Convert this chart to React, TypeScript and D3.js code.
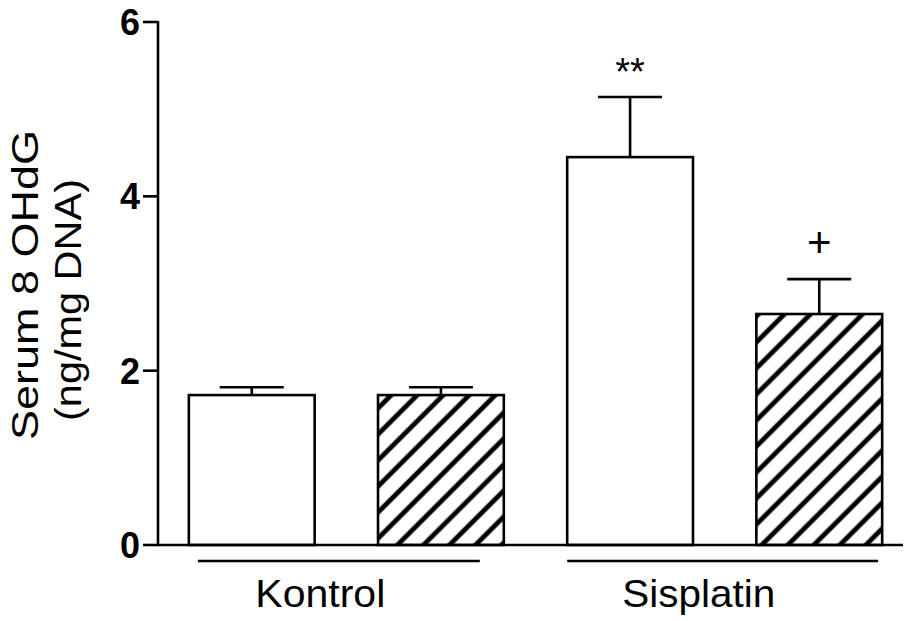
import React from "react";
import * as d3 from "d3";

// Serum 8-OHdG per group (mean ± SEM)
const barKeys = ["k-plain", "k-treated", "s-plain", "s-treated"];
const barGroup = ["Kontrol", "Kontrol", "Sisplatin", "Sisplatin"];
const barHatched = [false, true, false, true];
const means = [1.72, 1.72, 4.45, 2.65];
const sems = [0.09, 0.09, 0.69, 0.4];
const marks = ["", "", "**", "+"];

const groups = ["Kontrol", "Sisplatin"];
const yTicks = [0, 2, 4, 6];
const yTitle = ["Serum 8 OHdG", "(ng/mg DNA)"];

const W = 905;
const H = 621;
const FONT = "'Liberation Sans', Arial, Helvetica, sans-serif";

export default function App() {
  const y = d3.scaleLinear().domain([0, 6]).range([545, 22]);
  const x = d3
    .scaleBand<string>()
    .domain(barKeys)
    .range([158, 913])
    .paddingInner(0.335)
    .paddingOuter(0.163);
  const bw = x.bandwidth();
  const axisX = 158;
  const capHalf = 32;
  const sw = 2.6;

  // group underline spans relative to first/last bar of the group
  const groupInset = [
    [9, 24],
    [0, 4],
  ];
  const groupLabelWidth = [130, 153];

  return (
    <svg
      width={W}
      height={H}
      style={{ position: "absolute", left: 0, top: 0, background: "#fff" }}
      fontFamily={FONT}
    >
      <defs>
        <pattern
          id="hatch"
          patternUnits="userSpaceOnUse"
          width={18.4}
          height={18.4}
          patternTransform="rotate(45)"
        >
          <rect width={18.4} height={18.4} fill="#fff" />
          <line x1={4} y1={-2} x2={4} y2={20.4} stroke="#000" strokeWidth={4.8} />
        </pattern>
      </defs>

      {/* bars */}
      {barKeys.map((k, i) => {
        const x0 = x(k)!;
        const top = y(means[i]);
        const cap = y(means[i] + sems[i]);
        return (
          <g key={k}>
            <line
              x1={x0 + bw / 2}
              x2={x0 + bw / 2}
              y1={top}
              y2={cap}
              stroke="#000"
              strokeWidth={sw}
            />
            <line
              x1={x0 + bw / 2 - capHalf}
              x2={x0 + bw / 2 + capHalf}
              y1={cap}
              y2={cap}
              stroke="#000"
              strokeWidth={sw}
            />
            <rect
              x={x0}
              y={top}
              width={bw}
              height={y(0) - top}
              fill={barHatched[i] ? "url(#hatch)" : "#fff"}
              stroke="#000"
              strokeWidth={sw}
            />
            {marks[i] && (
              <text
                x={x0 + bw / 2}
                y={marks[i] === "**" ? cap - 12 : cap - 22}
                textAnchor="middle"
                fontSize={marks[i] === "**" ? 38 : 42}
                fill="#000"
              >
                {marks[i]}
              </text>
            )}
          </g>
        );
      })}

      {/* axes */}
      <line x1={axisX} x2={axisX} y1={y(6) - 1} y2={y(0)} stroke="#000" strokeWidth={sw} />
      <line x1={axisX - 1} x2={903} y1={y(0)} y2={y(0)} stroke="#000" strokeWidth={sw} />
      {yTicks.map((t) => (
        <g key={t}>
          <line x1={axisX - 15} x2={axisX} y1={y(t)} y2={y(t)} stroke="#000" strokeWidth={sw} />
          <text
            x={axisX - 18}
            y={y(t) + 13}
            textAnchor="end"
            fontSize={36}
            fontWeight="bold"
            fill="#000"
          >
            {t}
          </text>
        </g>
      ))}

      {/* group underlines and labels */}
      {groups.map((g, gi) => {
        const keys = barKeys.filter((_, i) => barGroup[i] === g);
        const start = x(keys[0])! + groupInset[gi][0];
        const end = x(keys[keys.length - 1])! + bw - groupInset[gi][1];
        const center = (x(keys[0])! + x(keys[keys.length - 1])! + bw) / 2 - 26;
        return (
          <g key={g}>
            <line x1={start} x2={end} y1={561} y2={561} stroke="#000" strokeWidth={sw} />
            <text
              x={center - groupLabelWidth[gi] / 2}
              y={607}
              fontSize={39}
              textLength={groupLabelWidth[gi]}
              lengthAdjust="spacingAndGlyphs"
              fill="#000"
            >
              {g}
            </text>
          </g>
        );
      })}

      {/* y-axis title */}
      <text transform="translate(38,285) rotate(-90)" fontSize={37} fill="#000">
        <tspan x={-155} y={0} textLength={310} lengthAdjust="spacingAndGlyphs">
          {yTitle[0]}
        </tspan>
      </text>
      <text transform="translate(81,300) rotate(-90)" fontSize={37} fill="#000">
        <tspan x={-121} y={0} textLength={242} lengthAdjust="spacingAndGlyphs">
          {yTitle[1]}
        </tspan>
      </text>
    </svg>
  );
}
